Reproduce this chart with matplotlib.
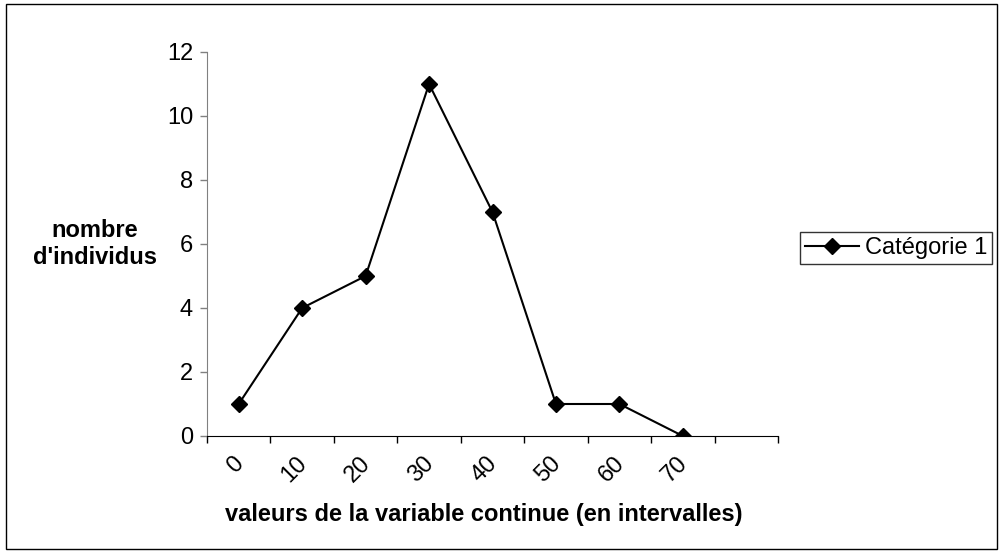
import matplotlib.pyplot as plt
import numpy as np
from matplotlib.patches import Rectangle

plt.rcParams['font.family'] = ['Liberation Sans', 'DejaVu Sans']

# Data
labels = ['0', '10', '20', '30', '40', '50', '60', '70', '']
values = [1, 4, 5, 11, 7, 1, 1, 0]
series_name = 'Catégorie 1'

W, H = 999, 552
fig = plt.figure(figsize=(W / 100, H / 100), dpi=100)
ax = fig.add_axes([207 / W, 1 - 436 / H, 571 / W, 384 / H])

x = np.arange(len(values)) + 0.5
ax.plot(x, values, color='black', lw=1.5, marker='D', ms=8, label=series_name)

ax.set_xlim(0, len(labels))
ax.set_ylim(0, 12)
ax.set_yticks(np.arange(0, 13, 2))
ax.tick_params(axis='y', labelsize=17, length=5, color='#808080', width=1, pad=5)

# category boundaries as ticks, labels at centers (slightly left, Excel style)
ax.set_xticks(np.arange(len(labels) + 1))
ax.set_xticklabels([])
ax.set_xticks(np.arange(len(labels)) + 0.4, minor=True)
ax.set_xticklabels(labels, minor=True, rotation=45, ha='right', va='top',
                   rotation_mode='anchor', fontsize=17)
ax.tick_params(axis='x', which='major', length=5, color='black', width=1)
ax.tick_params(axis='x', which='minor', length=0, pad=12)

for s in ['top', 'right']:
    ax.spines[s].set_visible(False)
ax.spines['left'].set_color('#808080')
ax.spines['bottom'].set_color('black')

fig.text(484 / W, 1 - 515 / H, 'valeurs de la variable continue (en intervalles)',
         fontsize=17, fontweight='bold', ha='center', va='center')
fig.text(95 / W, 1 - 244 / H, "nombre\nd'individus", fontsize=17, fontweight='bold',
         ha='center', va='center', linespacing=1.25)

leg = fig.legend(loc='center left', bbox_to_anchor=(800 / W, 1 - 248 / H),
                 fontsize=17, frameon=True, fancybox=False, edgecolor='black',
                 borderpad=0.2, handlelength=2.3, handletextpad=0.25,
                 borderaxespad=0)
leg.get_frame().set_linewidth(1)

fig.patches.append(Rectangle((6 / W, 3 / H), (W - 8) / W, (H - 7) / H,
                             transform=fig.transFigure, fill=False,
                             edgecolor='black', lw=1))

fig.savefig('out.png', dpi=100)
